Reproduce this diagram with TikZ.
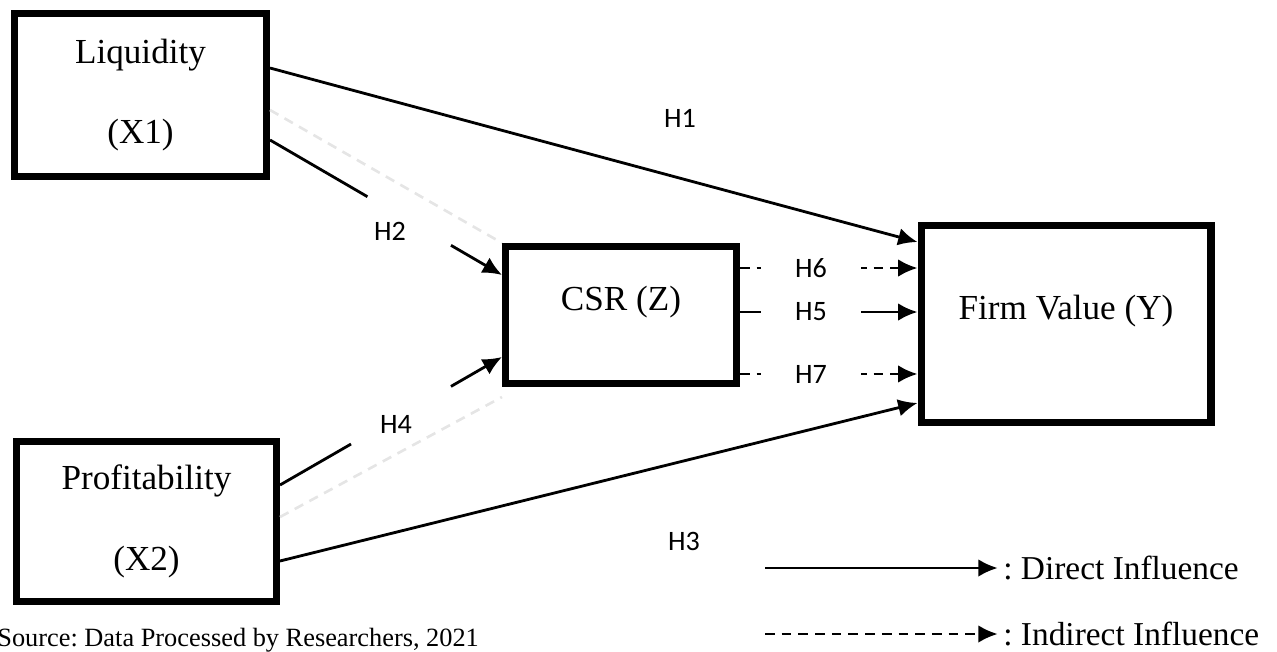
\documentclass[tikz,border=0pt]{standalone}
\usepackage{fontspec}
\setmainfont{Liberation Serif}
\newfontfamily\hypfont{Carlito}
\usetikzlibrary{arrows.meta, positioning, calc}
\frenchspacing

\begin{document}
\begin{tikzpicture}[
      x=0.02cm, y=-0.02cm,
      box/.style={rectangle, draw, line width=4pt, align=center, font=\fontsize{20}{24}\selectfont},
      raised/.style={text height=0.55cm, text depth=0.75cm},
      plain/.style={draw, line width=1.6pt},
      line/.style={plain, -{Latex[length=11pt, width=10pt]}},
      dline/.style={line, dash pattern=on 5.5pt off 4pt},
      faint/.style={draw, line width=1.5pt, black!10, dash pattern=on 5.5pt off 4pt},
      hyp/.style={font=\hypfont\fontsize{16}{19}\selectfont},
      gap/.style={hyp, fill=white, minimum width=2cm, inner sep=1pt},
      legend/.style={anchor=west, inner sep=0pt, font=\fontsize{19}{22}\selectfont}
    ]
    \useasboundingbox (0,0) rectangle (1277,652);

    % Nodes
    \node[box, minimum width=5.04cm, minimum height=3.26cm] (liq) at (140.5,95) {Liquidity\\[22pt](X1)};
    \node[box, minimum width=5.2cm, minimum height=3.2cm] (prof) at (146.5,521.5) {Profitability\\[22pt](X2)};
    \node[box, raised, minimum width=4.62cm, minimum height=2.74cm] (csr) at (621,315) {CSR (Z)};
    \node[box, raised, minimum width=5.8cm, minimum height=3.96cm] (firm) at (1066,324) {Firm Value (Y)};

    \node[hyp] (h1) at (680,118) {H1};
    \node[hyp] (h2) at (390,231) {H2};
    \node[hyp] (h3) at (684,541) {H3};
    \node[hyp] (h4) at (396,424) {H4};

    % Connections
    \draw[faint] ([yshift=-0.3cm]liq.east) -- (csr.north west);
    \draw[faint] ([yshift=0.09cm]prof.east) -- ([yshift=-0.2cm]csr.south west);
    \draw[line] ([yshift=0.54cm]liq.east) -- ([yshift=1.64cm]firm.west);
    \draw[line] ([yshift=-0.79cm]prof.east) -- ([yshift=-1.58cm]firm.west);

    \coordinate (h2s) at ([yshift=-0.9cm]liq.east);
    \coordinate (h2e) at ([yshift=0.8cm]csr.west);
    \draw[plain] (h2s) -- ($(h2s)!0.42!(h2e)$);
    \draw[line] ($(h2s)!0.78!(h2e)$) -- (h2e);

    \coordinate (h4s) at ([yshift=0.73cm]prof.east);
    \coordinate (h4e) at ([yshift=-0.84cm]csr.west);
    \draw[plain] (h4s) -- ($(h4s)!0.32!(h4e)$);
    \draw[line] ($(h4s)!0.77!(h4e)$) -- (h4e);

    \draw[dline] ([yshift=0.94cm]csr.east) -- ([yshift=0.94cm]csr.east -| firm.west) node[gap, pos=0.4] (h6) {H6};
    \draw[line] ([yshift=0.06cm]csr.east) -- ([yshift=0.06cm]csr.east -| firm.west) node[gap, pos=0.4] (h5) {H5};
    \draw[dline] ([yshift=-1.18cm]csr.east) -- ([yshift=-1.18cm]csr.east -| firm.west) node[gap, pos=0.4] (h7) {H7};

    % Legend
    \node[legend] (direct) at (1003,568) {: Direct Influence};
    \node[legend] (indirect) at (1003,634) {: Indirect Influence};
    \coordinate (ds) at (765,568);
    \coordinate (is) at (765,634);
    \draw[line] (ds) -- ([xshift=-3pt]direct.west);
    \draw[dline] (is) -- ([xshift=-3pt]indirect.west);

    \node[anchor=base west, inner sep=0pt, font=\fontsize{15}{18}\selectfont] (src) at (-3,646) {Source: Data Processed by Researchers, 2021};
  \end{tikzpicture}
\end{document}
